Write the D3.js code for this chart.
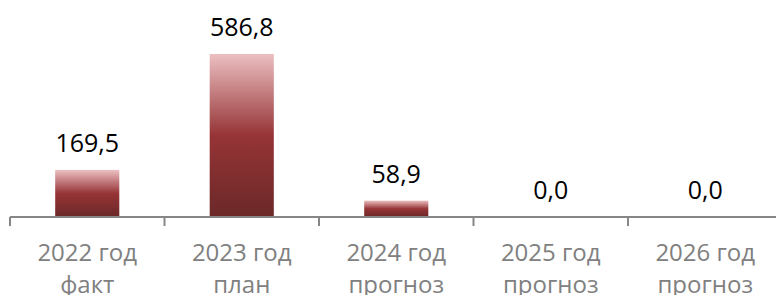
<!DOCTYPE html>
<html><head><meta charset="utf-8">
<script src="https://cdn.jsdelivr.net/npm/d3@7"></script>
<style>body{margin:0;background:#fff}svg{display:block}</style>
</head><body>
<script>
const years = ["2022 год","2023 год","2024 год","2025 год","2026 год"];
const kinds = ["факт","план","прогноз","прогноз","прогноз"];
const values = [169.5, 586.8, 58.9, 0.0, 0.0];

const W = 776, H = 295;
const svg = d3.select("body").append("svg").attr("width", W).attr("height", H);
const x0 = 10, band = 154.5, baseY = 217;
const x = d3.scaleBand().domain(d3.range(values.length)).range([x0, x0 + band*values.length]).paddingInner(0.585).paddingOuter(0.2925);
const y = d3.scaleLinear().domain([0, 586.8]).range([baseY, 54]);

const defs = svg.append("defs");
const g = defs.append("linearGradient").attr("id","grad").attr("x1",0).attr("y1",0).attr("x2",0).attr("y2",1);
g.append("stop").attr("offset","0%").attr("stop-color","#ecbfc1");
g.append("stop").attr("offset","50%").attr("stop-color","#963436");
g.append("stop").attr("offset","100%").attr("stop-color","#6b2828");

svg.selectAll("rect.bar").data(values).enter().append("rect").attr("class","bar")
  .attr("x",(d,i)=>x(i)).attr("width",x.bandwidth())
  .attr("y",d=>y(d)).attr("height",d=>baseY-y(d))
  .attr("fill","url(#grad)");

const font = "'Open Sans', 'Segoe UI', sans-serif";
svg.selectAll("text.val").data(values).enter().append("text").attr("class","val")
  .attr("x",(d,i)=>x(i)+x.bandwidth()/2).attr("y",d=>y(d)-18)
  .attr("text-anchor","middle").attr("font-family",font).attr("font-size",25).attr("fill","#000")
  .text(d=>d.toFixed(1).replace(".",","));

// axis
svg.append("line").attr("x1",x0).attr("x2",W).attr("y1",baseY).attr("y2",baseY).attr("stroke","#868686").attr("stroke-width",2);
svg.selectAll("line.tick").data(d3.range(values.length+1)).enter().append("line").attr("class","tick")
  .attr("x1",i=>x0+band*i).attr("x2",i=>x0+band*i).attr("y1",baseY).attr("y2",baseY+9)
  .attr("stroke","#868686").attr("stroke-width",2);

svg.selectAll("text.yr").data(years).enter().append("text").attr("class","yr")
  .attr("x",(d,i)=>x(i)+x.bandwidth()/2).attr("y",261)
  .attr("text-anchor","middle").attr("font-family",font).attr("font-size",24).attr("fill","#808080")
  .text(d=>d);
svg.selectAll("text.kd").data(kinds).enter().append("text").attr("class","kd")
  .attr("x",(d,i)=>x(i)+x.bandwidth()/2).attr("y",293)
  .attr("text-anchor","middle").attr("font-family",font).attr("font-size",24).attr("fill","#808080")
  .text(d=>d);
</script>
</body></html>
